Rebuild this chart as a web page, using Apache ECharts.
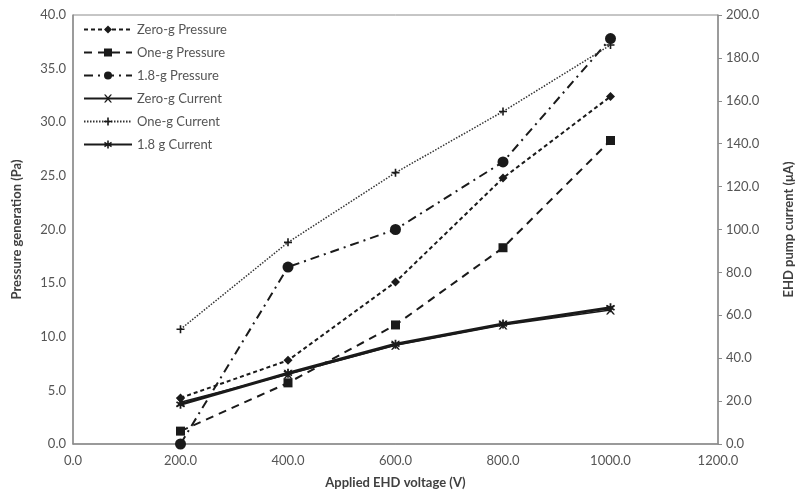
<!DOCTYPE html>
<html>
<head>
<meta charset="utf-8">
<script src="https://cdn.jsdelivr.net/npm/echarts@6/dist/echarts.min.js"></script>
<style>
  html, body { margin: 0; padding: 0; background: #fff; }
  #main { width: 803px; height: 494px; }
</style>
</head>
<body>
<div id="main"></div>
<script>
// applied voltage (V)
var voltages = [200, 400, 600, 800, 1000];
// pressure (Pa), left axis
var zeroGPressure = [4.3, 7.8, 15.1, 24.8, 32.4];
var oneGPressure = [1.2, 5.7, 11.1, 18.3, 28.3];
var p18Pressure = [0.0, 16.5, 20.0, 26.3, 37.8];
// current (uA), right axis
var zeroGCurrent = [19.5, 32.5, 46.0, 55.5, 62.5];
var oneGCurrent = [53.5, 94.0, 126.5, 155.0, 186.0];
var c18Current = [18.5, 33.0, 46.5, 56.0, 63.5];

var txt = '#555';
var axisCol = '#8c8c8c';
var font = 'Lato, "Open Sans", sans-serif';

function pairs(ys) {
  return voltages.map(function (v, i) { return [v, ys[i]]; });
}
function fmt(v) { return v.toFixed(1); }

var xMark = 'path://M0,0 L2,0 L5,3.5 L8,0 L10,0 L6,5 L10,10 L8,10 L5,6.5 L2,10 L0,10 L4,5 Z';
var starMark = 'path://M4,0 L6,0 L6,3.3 L9,1.6 L10,3.3 L7,5 L10,6.7 L9,8.4 L6,6.7 L6,10 L4,10 L4,6.7 L1,8.4 L0,6.7 L3,5 L0,3.3 L1,1.6 L4,3.3 Z';
var plusMark = 'path://M4,0 L6,0 L6,4 L10,4 L10,6 L6,6 L6,10 L4,10 L4,6 L0,6 L0,4 L4,4 Z';

var myChart = echarts.init(document.getElementById('main'));
var option = {
  backgroundColor: '#fff',
  animation: false,
  textStyle: { fontFamily: font },
  grid: { left: 73, right: 80, top: 15, bottom: 50, show: true, borderColor: axisCol, borderWidth: 1 },
  legend: {
    orient: 'vertical',
    left: 78, top: 18,
    itemWidth: 48, itemHeight: 10, itemGap: 10,
    textStyle: { color: txt, fontSize: 13, fontFamily: font },
    data: ['Zero-g Pressure', 'One-g Pressure', '1.8-g Pressure', 'Zero-g Current', 'One-g Current', '1.8 g Current']
  },
  xAxis: {
    type: 'value', min: 0, max: 1200, interval: 200,
    name: 'Applied EHD voltage (V)', nameLocation: 'middle', nameGap: 32,
    nameTextStyle: { color: '#404040', fontWeight: 'bold', fontSize: 13, fontFamily: font },
    axisLine: { lineStyle: { color: axisCol, width: 1.5 } },
    axisTick: { show: false },
    axisLabel: { color: txt, fontSize: 13, formatter: fmt, margin: 10 },
    splitLine: { show: false }
  },
  yAxis: [{
    type: 'value', min: 0, max: 40, interval: 5, position: 'left',
    name: 'Pressure generation (Pa)', nameLocation: 'middle', nameGap: 50,
    nameTextStyle: { color: '#404040', fontWeight: 'bold', fontSize: 13, fontFamily: font },
    axisLine: { show: true, lineStyle: { color: axisCol, width: 1.5 } },
    axisTick: { show: false },
    axisLabel: { color: txt, fontSize: 13, formatter: fmt, margin: 7 },
    splitLine: { show: false }
  }, {
    type: 'value', min: 0, max: 200, interval: 20, position: 'right',
    name: 'EHD pump current (\u03bcA)', nameLocation: 'middle', nameGap: 64, nameRotate: 90,
    nameTextStyle: { color: '#404040', fontWeight: 'bold', fontSize: 13, fontFamily: font },
    axisLine: { show: true, lineStyle: { color: axisCol, width: 1.5 } },
    axisTick: { show: true, length: 4, lineStyle: { color: axisCol } },
    axisLabel: { color: txt, fontSize: 13, formatter: fmt, margin: 8 },
    splitLine: { show: false }
  }],
  series: [{
    name: 'Zero-g Pressure', type: 'line', yAxisIndex: 0, data: pairs(zeroGPressure),
    symbol: 'diamond', symbolSize: 9, color: '#1a1a1a',
    lineStyle: { color: '#1a1a1a', width: 2, type: [4, 3] }
  }, {
    name: 'One-g Pressure', type: 'line', yAxisIndex: 0, data: pairs(oneGPressure),
    symbol: 'rect', symbolSize: 9, color: '#1a1a1a',
    lineStyle: { color: '#1a1a1a', width: 2, type: [8, 6] }
  }, {
    name: '1.8-g Pressure', type: 'line', yAxisIndex: 0, data: pairs(p18Pressure),
    symbol: 'circle', symbolSize: 11, color: '#1a1a1a',
    lineStyle: { color: '#1a1a1a', width: 2, type: [9, 5, 2, 5] }
  }, {
    name: 'Zero-g Current', type: 'line', yAxisIndex: 1, data: pairs(zeroGCurrent),
    symbol: xMark, symbolSize: 9, color: '#1a1a1a',
    lineStyle: { color: '#1a1a1a', width: 1.5, type: 'solid' }
  }, {
    name: 'One-g Current', type: 'line', yAxisIndex: 1, data: pairs(oneGCurrent),
    symbol: plusMark, symbolSize: 8, color: '#1a1a1a',
    lineStyle: { color: '#333', width: 1.5, type: [1.5, 1.5] }
  }, {
    name: '1.8 g Current', type: 'line', yAxisIndex: 1, data: pairs(c18Current),
    symbol: starMark, symbolSize: 9, color: '#1a1a1a',
    lineStyle: { color: '#1a1a1a', width: 3, type: 'solid' }
  }]
};
myChart.setOption(option);
</script>
</body>
</html>
